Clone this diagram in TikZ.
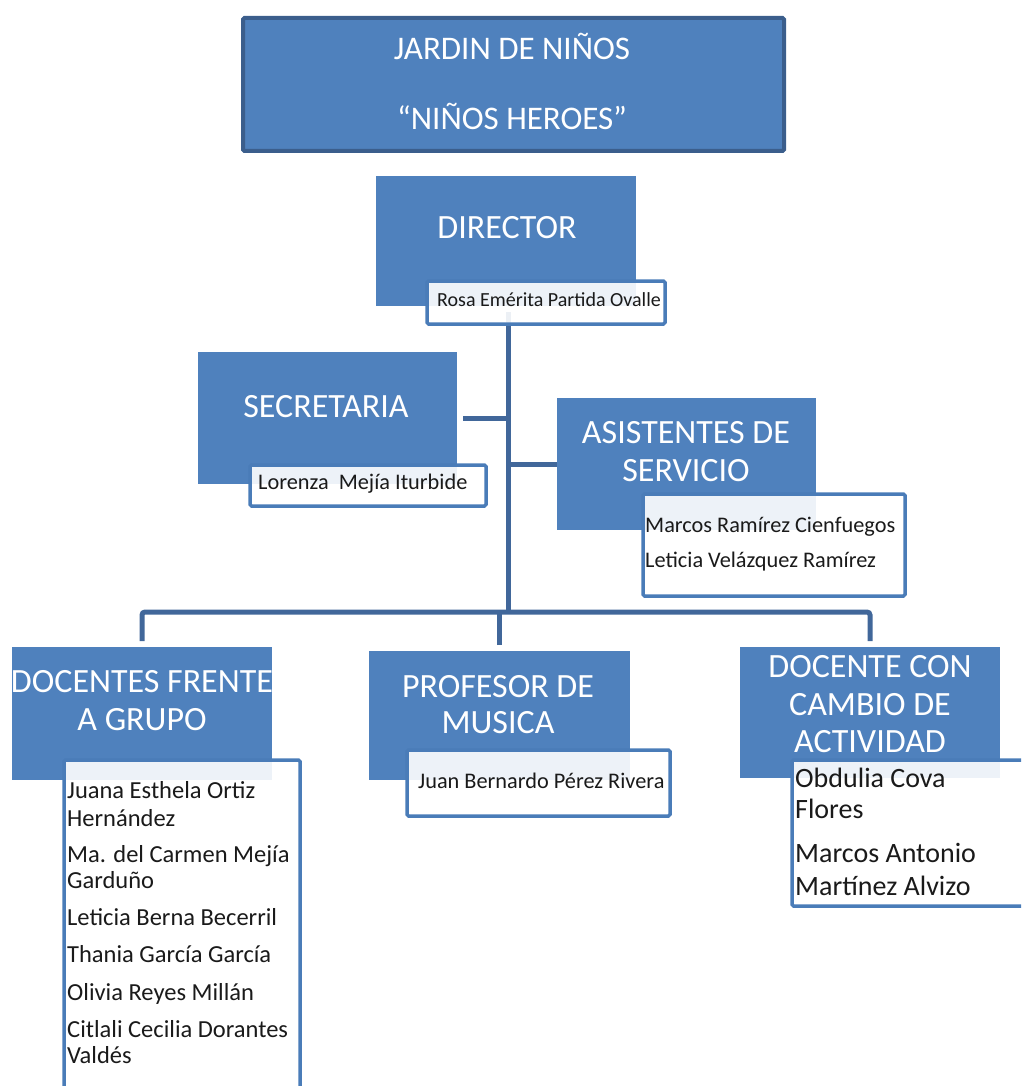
\documentclass[tikz,border=0pt]{standalone}
\usepackage{fontspec}
\setmainfont{Carlito}
\definecolor{boxblue}{HTML}{4F81BD}
\definecolor{linkblue}{HTML}{41679A}
\definecolor{darkedge}{HTML}{3B5E8C}
\definecolor{subedge}{HTML}{4A7CB8}
\definecolor{nametext}{HTML}{1A1A1A}
\begin{document}
\begin{tikzpicture}[x=1pt,y=-1pt,
  rolebox/.style={fill=boxblue, draw=none, inner sep=0, outer sep=0, anchor=north west},
  titlebox/.style={fill=boxblue, draw=darkedge, line width=4, rounded corners=1.5, inner sep=0, outer sep=0, anchor=north west},
  namebox/.style={draw=subedge, line width=3.5, fill=white, fill opacity=0.9, rounded corners=1.5, inner sep=0, outer sep=0, anchor=north west},
  roletxt/.style={text=white, font=\fontsize{34}{40}\selectfont, anchor=base, inner sep=0},
  ttltxt/.style={text=white, font=\fontsize{33}{40}\selectfont, anchor=base, inner sep=0},
  nametxt/.style={text=nametext, font=\fontsize{20}{24}\selectfont, anchor=base west, inner sep=0},
  midnametxt/.style={text=nametext, font=\fontsize{22.3}{26}\selectfont, anchor=base west, inner sep=0},
  bignametxt/.style={text=nametext, font=\fontsize{24.5}{28}\selectfont, anchor=base west, inner sep=0},
  hugenametxt/.style={text=nametext, font=\fontsize{28}{32}\selectfont, anchor=base west, inner sep=0},
  linkline/.style={draw=linkblue, line width=5}]
\useasboundingbox (0,0) rectangle (1021,1086);
\clip (0,0) rectangle (1021,1086);

% role boxes (geometry)
\node[titlebox, minimum width=541, minimum height=133] (title) at (243,18) {};
\node[rolebox, minimum width=260, minimum height=130] (dir) at (376,176) {};
\node[rolebox, minimum width=259, minimum height=132] (sec) at (198,352) {};
\node[rolebox, minimum width=259, minimum height=132] (asi) at (557,398) {};
\node[rolebox, minimum width=260, minimum height=133] (doc) at (12,647) {};
\node[rolebox, minimum width=261, minimum height=129] (mus) at (369,651) {};
\node[rolebox, minimum width=260, minimum height=131] (cam) at (740,647) {};

% connectors
\coordinate (trunktop) at (508,312);
\coordinate (hub) at (508,612);
\draw[linkline] (trunktop) -- (hub);
\draw[linkline] ([xshift=6]sec.east) -- (sec.east -| hub);
\draw[linkline] (asi.west -| hub) -- (asi.west);
\draw[linkline, rounded corners=3] ([yshift=6]doc.north) |- (hub) -| ([yshift=6]cam.north);
\draw[linkline] ([yshift=6]mus.north) -- (mus.north |- hub);

% name boxes
\node[namebox, minimum width=238, minimum height=43] (dirsub) at (427,281) {};
\node[namebox, minimum width=236, minimum height=41] (secsub) at (250,465) {};
\node[namebox, minimum width=262, minimum height=102] (asisub) at (643,494) {};
\node[namebox, minimum width=236, minimum height=400] (docsub) at (64,760) {};
\node[namebox, minimum width=263, minimum height=66] (mussub) at (407,750) {};
\node[namebox, minimum width=300, minimum height=146] (camsub) at (792,760) {};

% texts
\node[ttltxt] (t1) at (512,60) {JARDIN DE NIÑOS};
\node[ttltxt] (t2) at (512,130) {“NIÑOS HEROES”};
\node[roletxt] (dirt) at (507,238) {DIRECTOR};
\node[nametxt] (dirn) at (437,306) {Rosa Emérita Partida Ovalle};
\node[roletxt] (sect) at (326,417) {SECRETARIA};
\node[midnametxt] (secn) at (258,489) {Lorenza~ Mejía Iturbide};
\node[roletxt] (asit1) at (686,443) {ASISTENTES DE};
\node[roletxt] (asit2) at (686,481) {SERVICIO};
\node[midnametxt] (asin1) at (645,532) {Marcos Ramírez Cienfuegos};
\node[midnametxt] (asin2) at (645,567) {Leticia Velázquez Ramírez};
\node[roletxt] (doct1) at (142,692) {DOCENTES FRENTE};
\node[roletxt] (doct2) at (142,730) {A GRUPO};
\node[bignametxt] (docn1) at (67,798) {Juana Esthela Ortiz};
\node[bignametxt] (docn2) at (67,826) {Hernández};
\node[bignametxt] (docn3) at (67,862) {Ma. del Carmen Mejía};
\node[bignametxt] (docn4) at (67,888) {Garduño};
\node[bignametxt] (docn5) at (67,925) {Leticia Berna Becerril};
\node[bignametxt] (docn6) at (67,962) {Thania García García};
\node[bignametxt] (docn7) at (67,1000) {Olivia Reyes Millán};
\node[bignametxt] (docn8) at (67,1037) {Citlali Cecilia Dorantes};
\node[bignametxt] (docn9) at (67,1063) {Valdés};
\node[roletxt] (must1) at (498,697) {PROFESOR DE};
\node[roletxt] (must2) at (498,733) {MUSICA};
\node[midnametxt] (musn) at (418,788) {Juan Bernardo Pérez Rivera};
\node[roletxt] (camt1) at (870,677) {DOCENTE CON};
\node[roletxt] (camt2) at (870,715) {CAMBIO DE};
\node[roletxt] (camt3) at (870,752) {ACTIVIDAD};
\node[hugenametxt] (camn1) at (795,787) {Obdulia Cova};
\node[hugenametxt] (camn2) at (795,818) {Flores};
\node[hugenametxt] (camn3) at (795,862) {Marcos Antonio};
\node[hugenametxt] (camn4) at (795,895) {Martínez Alvizo};
\end{tikzpicture}
\end{document}
